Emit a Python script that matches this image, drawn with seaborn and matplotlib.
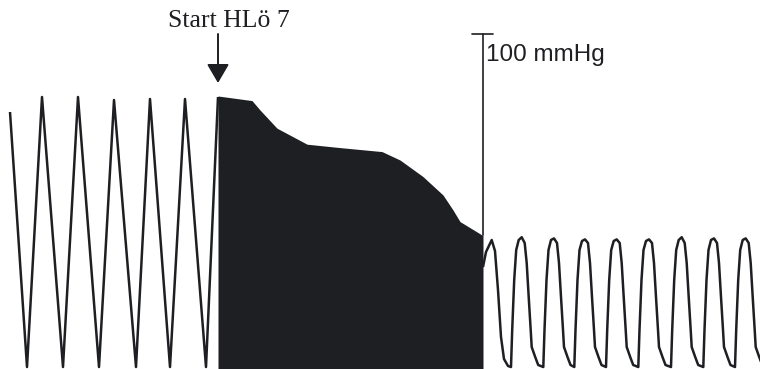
import matplotlib
matplotlib.use("Agg")
import matplotlib.pyplot as plt
import seaborn as sns
import pandas as pd

# ---- data (time in s, pressure in mmHg) ----
left_t = [0.10, 0.27, 0.42, 0.63, 0.78, 0.99, 1.14, 1.36, 1.50, 1.70, 1.85, 2.06, 2.18]
left_p = [127.5, 0.0, 135.0, 0.0, 135.0, 0.0, 133.5, 0.0, 134.0, 0.0, 134.0, 0.0, 135.0]

fill_t = [2.18, 2.52, 2.60, 2.77, 3.07, 3.40, 3.82, 4.00, 4.23, 4.43, 4.53, 4.60, 4.82, 4.83]
fill_p = [135.5, 133.2, 128.5, 119.4, 111.4, 109.7, 107.7, 103.5, 95.2, 86.0, 78.5, 72.7, 66.0, 66.0]

right_t = [4.83, 4.86, 4.917, 4.95, 4.98, 5.01, 5.04, 5.08,
           5.110, 5.122, 5.142, 5.162, 5.187, 5.217, 5.247, 5.267, 5.287, 5.307, 5.317, 5.352, 5.382,
           5.433, 5.445, 5.465, 5.485, 5.510, 5.540, 5.570, 5.590, 5.610, 5.630, 5.640, 5.675, 5.705,
           5.743, 5.755, 5.775, 5.795, 5.820, 5.850, 5.880, 5.900, 5.920, 5.940, 5.950, 5.985, 6.015,
           6.060, 6.072, 6.092, 6.112, 6.137, 6.167, 6.197, 6.217, 6.237, 6.257, 6.267, 6.302, 6.332,
           6.383, 6.395, 6.415, 6.435, 6.460, 6.490, 6.520, 6.540, 6.560, 6.580, 6.590, 6.625, 6.655,
           6.710, 6.722, 6.742, 6.762, 6.787, 6.817, 6.847, 6.867, 6.887, 6.907, 6.917, 6.952, 6.982,
           7.033, 7.045, 7.065, 7.085, 7.110, 7.140, 7.170, 7.190, 7.210, 7.230, 7.240, 7.275, 7.305,
           7.350, 7.362, 7.382, 7.402, 7.427, 7.457, 7.487, 7.507, 7.527, 7.547, 7.557, 7.592, 7.622]
right_p = [50.0, 57.5, 63.5, 58.0, 38.5, 15.0, 4.0, 0.5,
           0.0, 18.5, 43.5, 58.5, 63.5, 64.9, 62.0, 52.0, 35.0, 18.5, 10.0, 5.0, 1.0,
           0.0, 18.5, 43.5, 58.5, 63.5, 64.3, 62.0, 52.0, 35.0, 18.5, 10.0, 5.0, 1.0,
           0.0, 18.5, 43.5, 58.5, 63.0, 63.8, 62.0, 52.0, 35.0, 18.5, 10.0, 5.0, 1.0,
           0.0, 18.5, 43.5, 58.5, 63.0, 63.8, 62.0, 52.0, 35.0, 18.5, 10.0, 5.0, 1.0,
           0.0, 18.5, 43.5, 58.5, 63.0, 63.8, 62.0, 52.0, 35.0, 18.5, 10.0, 5.0, 1.0,
           0.0, 18.5, 43.5, 58.5, 63.5, 64.9, 62.0, 52.0, 35.0, 18.5, 10.0, 5.0, 1.0,
           0.0, 18.5, 43.5, 58.5, 63.5, 64.3, 62.0, 52.0, 35.0, 18.5, 10.0, 5.0, 1.0,
           0.0, 18.5, 43.5, 58.5, 63.5, 64.3, 62.0, 52.0, 35.0, 18.5, 10.0, 5.0, 1.0]

scale_bar_t = 4.825
scale_bar_p = [66.0, 166.75]
scale_label = "100 mmHg"
start_label = "Start HLö 7"
start_t = 2.18

INK = "#1e1f22"

sns.set_style("white")

fig = plt.figure(figsize=(7.6, 3.69), dpi=100)
ax = fig.add_axes([0, 0, 1, 1])

df_left = pd.DataFrame({"t": left_t, "p": left_p})
df_right = pd.DataFrame({"t": right_t, "p": right_p})

kw = dict(color=INK, linewidth=1.8, sort=False, estimator=None, ax=ax,
          solid_joinstyle="round", solid_capstyle="butt")
sns.lineplot(data=df_left, x="t", y="p", **kw)
sns.lineplot(data=df_right, x="t", y="p", **kw)

ax.fill_between(fill_t, fill_p, -10, color=INK, linewidth=0)

# scale bar
ax.plot([scale_bar_t, scale_bar_t], scale_bar_p, color=INK, lw=1.2)
ax.plot([4.72, 4.93], [scale_bar_p[1], scale_bar_p[1]], color=INK, lw=1.2)
ax.text(4.865, 155.8, scale_label, fontsize=17.5, family=["Liberation Sans", "DejaVu Sans"],
        color=INK, ha="left", va="center")

# start marker
ax.text(2.285, 172.8, start_label, fontsize=18.5, family=["Liberation Serif", "DejaVu Serif"],
        color=INK, ha="center", va="center")
ax.annotate("", xy=(start_t, 142.0), xytext=(start_t, 166.5),
            arrowprops=dict(arrowstyle="-|>,head_length=0.58,head_width=0.34",
                            color=INK, lw=1.4, shrinkA=0, shrinkB=0,
                            mutation_scale=20))

ax.set_xlim(0, 7.6)
ax.set_ylim(-1, 183.5)
ax.axis("off")

fig.savefig("out.png", dpi=100)
